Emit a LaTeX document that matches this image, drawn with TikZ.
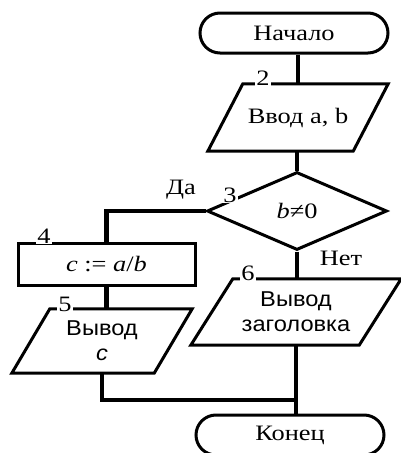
\documentclass[tikz,border=0pt]{standalone}
\usepackage{fontspec}
\setmainfont{Liberation Serif}[FakeStretch=1.2]
\newfontfamily\blocksans{Liberation Sans}[FakeStretch=1.1]
\usetikzlibrary{shapes.geometric,shapes.misc,calc}

% outline of an input/output block around a named rectangle node
\newcommand\ioblock[2]{%
  \draw[outline] ([xshift=#2/2]#1.north west) -- ([xshift=#2/2]#1.north east)
    -- ([xshift=-#2/2]#1.south east) -- ([xshift=-#2/2]#1.south west) -- cycle;}

\begin{document}
\begin{tikzpicture}[x=1pt,y=-1pt,
  outline/.style={draw=black, line width=3pt, line join=miter},
  link/.style={draw=black, line width=4.5pt},
  txt/.style={font=\fontsize{22}{26}\selectfont},
  term/.style={rounded rectangle, outline, minimum width=188pt,
    minimum height=40pt, inner sep=0pt, txt},
  iobox/.style={rectangle, inner sep=0pt, txt, align=center},
  procbox/.style={rectangle, outline, inner sep=0pt, txt},
  decbox/.style={diamond, outline, inner sep=0pt, minimum width=180pt,
    minimum height=78pt, txt},
  sanstxt/.style={font=\blocksans\fontsize{21.5}{25}\selectfont, align=center},
  numlabel/.style={fill=white, inner sep=1pt, txt},
  branch/.style={txt}
]
\useasboundingbox (0,0) rectangle (401,453);

% blocks
\node[term] (start) at (294,33) {Начало};
\node[iobox, minimum width=145pt, minimum height=67pt] (in2) at (298,117.5) {Ввод a, b};
\node[decbox] (dec) at (297,211) {\textit{b}≠0};
\node[procbox, minimum width=177pt, minimum height=42pt] (op4) at (106.5,264) {\textit{c} := \textit{a}/\textit{b}};
\node[iobox, minimum width=142pt, minimum height=64pt, sanstxt] (out5) at (102,341) {Вывод\\\textit{c}};
\node[iobox, minimum width=168pt, minimum height=66pt, sanstxt] (out6) at (296,312) {Вывод\\заголовка};
\node[term] (stop) at (290,435) {Конец};

% connectors
\coordinate (j) at ($(out5.south -| out6.south)+(0,27)$);
\draw[link] (start.south -| in2.north) -- (in2.north);
\draw[link] (in2.south -| dec.north) -- (dec.north);
\draw[link] (dec.west) -| (op4.north);
\draw[link] (op4.south) -- (op4.south |- out5.north);
\draw[link] (dec.south) -- (dec.south |- out6.north);
\draw[link] (out5.south) |- (j);
\draw[link] (out6.south) -- (out6.south |- stop.north);

% input/output outlines
\ioblock{in2}{35}
\ioblock{out5}{38}
\ioblock{out6}{42}

% block numbers
\node[numlabel] (n2) at (263,78) {2};
\node[numlabel] (n3) at (230,195) {3};
\node[numlabel] (n4) at (44,236) {4};
\node[numlabel] (n5) at (65,304) {5};
\node[numlabel] (n6) at (248,273) {6};

% branch labels
\node[branch] (yes) at (181,190) {Да};
\node[branch] (no) at (341,258) {Нет};
\end{tikzpicture}
\end{document}
